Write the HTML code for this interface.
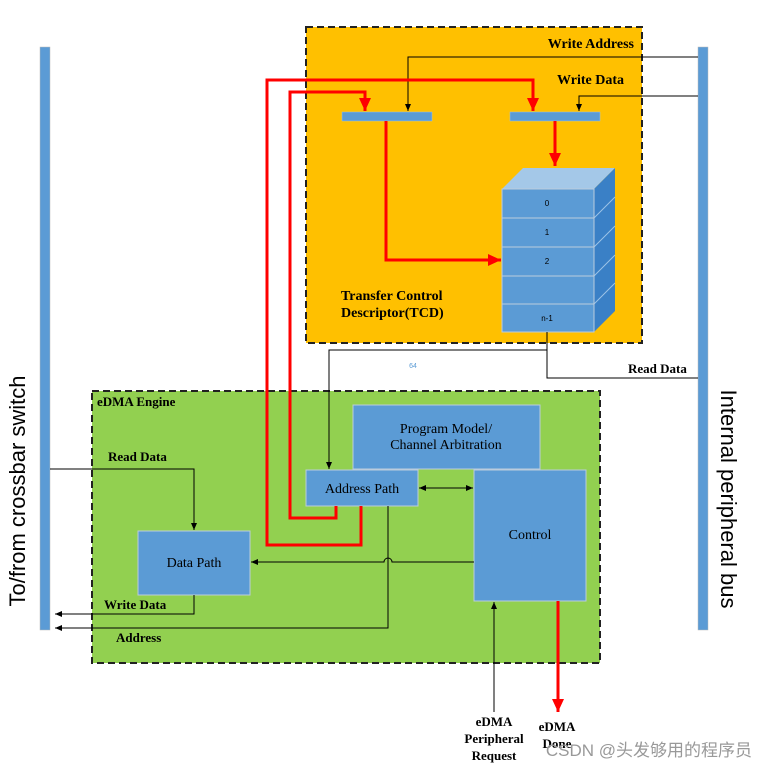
<!DOCTYPE html>
<html><head><meta charset="utf-8"><style>html,body{margin:0;padding:0;background:#fff}svg{display:block}</style></head>
<body>
<svg width="767" height="769" viewBox="0 0 767 769" xmlns="http://www.w3.org/2000/svg">
<defs>
<marker id="ab" markerWidth="8" markerHeight="8" refX="7" refY="4" orient="auto" markerUnits="userSpaceOnUse"><path d="M0,1 L7,4 L0,7 Z" fill="#000"/></marker>
<marker id="ar" markerWidth="14" markerHeight="14" refX="13" refY="7" orient="auto" markerUnits="userSpaceOnUse"><path d="M0,1 L13,7 L0,13 Z" fill="#f00"/></marker>
</defs>
<rect x="40" y="47" width="10" height="583" fill="#5B9BD5" stroke="#bbb" stroke-width="0.5"/>
<rect x="698" y="47" width="10" height="583" fill="#5B9BD5" stroke="#bbb" stroke-width="0.5"/>
<text transform="translate(25,491) rotate(-90)" text-anchor="middle" font-family="Liberation Sans, sans-serif" font-size="22">To/from crossbar switch</text>
<text transform="translate(721,499) rotate(90)" text-anchor="middle" font-family="Liberation Sans, sans-serif" font-size="22">Internal peripheral bus</text>
<rect x="306" y="27" width="336" height="316" fill="#FFC000" stroke="#222" stroke-width="2" stroke-dasharray="7,4"/>
<rect x="92" y="391" width="508" height="272" fill="#92D050" stroke="#222" stroke-width="2" stroke-dasharray="7,4"/>
<g font-family="Liberation Serif, serif" font-weight="bold" font-size="14">
<text x="634" y="48" text-anchor="end">Write Address</text>
<text x="624" y="84" text-anchor="end">Write Data</text>
<text x="341" y="300">Transfer Control</text>
<text x="341" y="317">Descriptor(TCD)</text>
<text x="97" y="406" font-size="13">eDMA Engine</text>
<text x="108" y="461" font-size="13">Read Data</text>
<text x="104" y="609" font-size="13">Write Data</text>
<text x="116" y="642" font-size="13">Address</text>
<text x="628" y="373" font-size="13">Read Data</text>
<text x="494" y="726" font-size="13" text-anchor="middle">eDMA</text>
<text x="494" y="743" font-size="13" text-anchor="middle">Peripheral</text>
<text x="494" y="760" font-size="13" text-anchor="middle">Request</text>
<text x="557" y="731" font-size="13" text-anchor="middle">eDMA</text>
<text x="557" y="748" font-size="13" text-anchor="middle">Done</text>
</g>
<rect x="342" y="112" width="90" height="9" fill="#5B9BD5" stroke="#9dc3e6" stroke-width="0.5"/>
<rect x="510" y="112" width="90" height="9" fill="#5B9BD5" stroke="#9dc3e6" stroke-width="0.5"/>
<polygon points="502,189 523,168 615,168 594,189" fill="#A4C8E8"/>
<polygon points="594,189 615,168 615,311 594,332" fill="#3A80C6"/>
<g stroke="#9dc3e6" stroke-width="1">
<line x1="594" y1="218" x2="615" y2="197"/><line x1="594" y1="247" x2="615" y2="226"/><line x1="594" y1="276" x2="615" y2="255"/><line x1="594" y1="304" x2="615" y2="283"/>
</g>
<g fill="#5B9BD5" stroke="#bcd" stroke-width="1">
<rect x="502" y="189" width="92" height="29"/><rect x="502" y="218" width="92" height="29"/><rect x="502" y="247" width="92" height="29"/><rect x="502" y="276" width="92" height="28"/><rect x="502" y="304" width="92" height="28"/>
</g>
<g font-family="Liberation Sans, sans-serif" font-size="8" text-anchor="middle">
<text x="547" y="206">0</text><text x="547" y="235">1</text><text x="547" y="264">2</text><text x="547" y="321">n-1</text>
</g>
<text x="413" y="368" font-family="Liberation Sans, sans-serif" font-size="7" fill="#5B9BD5" text-anchor="middle">64</text>
<g fill="#5B9BD5" stroke="#bcd" stroke-width="1">
<rect x="353" y="405" width="187" height="64"/>
<rect x="306" y="470" width="112" height="36"/>
<rect x="474" y="470" width="112" height="131"/>
<rect x="138" y="531" width="112" height="64"/>
</g>
<g font-family="Liberation Serif, serif" font-size="14" text-anchor="middle">
<text x="446" y="433">Program Model/</text>
<text x="446" y="449">Channel Arbitration</text>
<text x="362" y="493">Address Path</text>
<text x="530" y="539">Control</text>
<text x="194" y="567">Data Path</text>
</g>
<g fill="none" stroke="#000" stroke-width="1">
<polyline points="698,57 408,57 408,111" marker-end="url(#ab)"/>
<polyline points="698,96 579,96 579,111" marker-end="url(#ab)"/>
<polyline points="547,332 547,378 698,378"/>
<polyline points="547,350 329,350 329,469" marker-end="url(#ab)"/>
<polyline points="50,469 194,469 194,530" marker-end="url(#ab)"/>
<polyline points="194,595 194,614 55,614" marker-end="url(#ab)"/>
<polyline points="388,506 388,628 55,628" marker-end="url(#ab)"/>
<path d="M474,562 L392,562 A4,4 0 0 0 384,562 L251,562" marker-end="url(#ab)"/>
<line x1="425" y1="488" x2="473" y2="488" marker-end="url(#ab)"/>
<line x1="467" y1="488" x2="419" y2="488" marker-end="url(#ab)"/>
<line x1="494" y1="712" x2="494" y2="602" marker-end="url(#ab)"/>
</g>
<g fill="none" stroke="#f00" stroke-width="3">
<polyline points="361,506 361,545 267,545 267,80 533,80 533,111" marker-end="url(#ar)"/>
<polyline points="336,506 336,518 290,518 290,92 365,92 365,111" marker-end="url(#ar)"/>
<polyline points="386,121 386,260 501,260" marker-end="url(#ar)"/>
<polyline points="555,121 555,166" marker-end="url(#ar)"/>
<polyline points="558,601 558,712" marker-end="url(#ar)"/>
</g>
<text x="752" y="756" font-family="Liberation Sans, Noto Sans CJK SC, sans-serif" font-size="17" fill="#999" text-anchor="end">CSDN @头发够用的程序员</text>
</svg>
</body></html>
